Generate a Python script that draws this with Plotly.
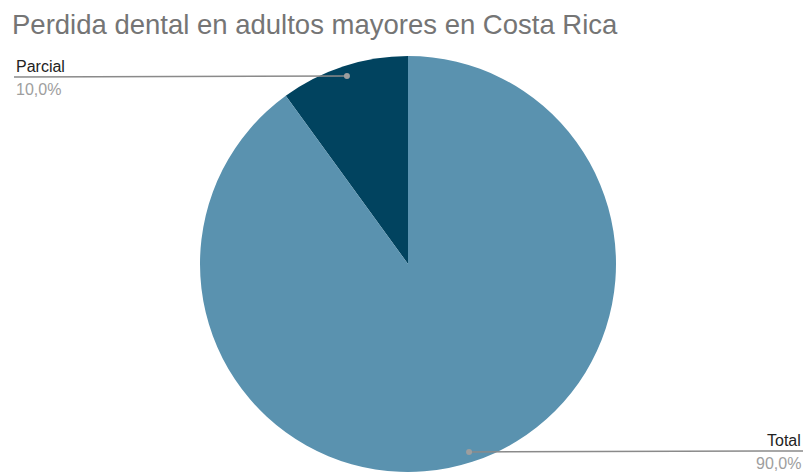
import math
import plotly.graph_objects as go

labels = ["Parcial", "Total"]
values = [10.0, 90.0]
colors = ["#01435F", "#5A92AF"]
title = "Perdida dental en adultos mayores en Costa Rica"

W, H = 803, 472
cx, cy, r = 408, 264, 208  # pie geometry in pixels

total = sum(values)
fig = go.Figure(go.Pie(
    labels=labels, values=values, sort=False, direction="counterclockwise",
    rotation=-values[0] / total * 360, marker=dict(colors=colors, line=dict(width=0)),
    textinfo="none", hoverinfo="label+percent", showlegend=False,
    domain=dict(x=[(cx - r) / W, (cx + r) / W], y=[(H - cy - r) / H, (H - cy + r) / H]),
))

def px(x, y):
    return x / W, 1 - y / H

cum = 0
shapes, annos = [], []
for lab, v in zip(labels, values):
    mid = (cum + v / 2) / total * 2 * math.pi
    cum += v
    # counterclockwise from 12 o'clock
    dx = -math.sin(mid) * 0.95 * r
    dy = -math.cos(mid) * 0.95 * r
    dotx, doty = cx + dx, cy + dy
    left = dx < 0
    endx = 14 if left else W
    x0, y0 = px(dotx, doty)
    x1, y1 = px(endx, doty + (1 if left else -1))
    shapes.append(dict(type="line", xref="paper", yref="paper", x0=x0, y0=y0, x1=x1, y1=y1,
                       line=dict(color="#8a8a8a", width=1.5)))
    shapes.append(dict(type="circle", xref="paper", yref="paper",
                       x0=(dotx - 3) / W, x1=(dotx + 3) / W,
                       y0=1 - (doty + 3) / H, y1=1 - (doty - 3) / H,
                       fillcolor="#9e9e9e", line=dict(width=0)))
    pct = f"{v / total * 100:.1f}%".replace(".", ",")
    anchor = "left" if left else "right"
    annos.append(dict(xref="paper", yref="paper", x=x1, y=y1 + 0 / H, text=lab,
                      showarrow=False, xanchor=anchor, yanchor="bottom",
                      font=dict(family="Liberation Sans, Arial", size=16, color="#222222")))
    annos.append(dict(xref="paper", yref="paper", x=x1, y=y1 - 2 / H, text=pct,
                      showarrow=False, xanchor=anchor, yanchor="top",
                      font=dict(family="Liberation Sans, Arial", size=16, color="#9e9e9e")))

fig.update_layout(
    width=W, height=H, margin=dict(l=0, r=0, t=0, b=0),
    paper_bgcolor="white", plot_bgcolor="white",
    title=dict(text=title, x=12 / W, xanchor="left", y=1 - 24 / H, yanchor="middle",
               font=dict(family="Liberation Sans, Arial", size=27.5, color="#757575")),
    shapes=shapes, annotations=annos,
)
fig.write_html("out.html")
